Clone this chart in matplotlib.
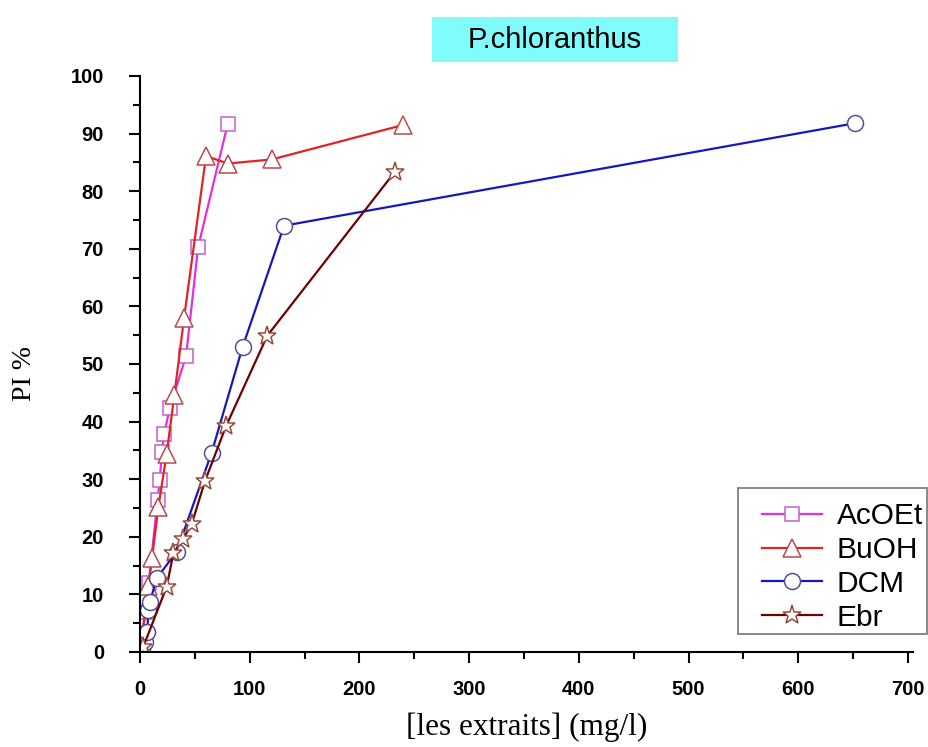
import matplotlib
matplotlib.use("Agg")
import matplotlib.pyplot as plt
from matplotlib.patches import Rectangle
from matplotlib.ticker import MultipleLocator

# ---- data ----
acoet_x = [2, 5, 8, 16, 18, 20, 22, 27, 42, 53, 80]
acoet_y = [3, 7, 12, 26.4, 29.9, 34.8, 37.8, 42.3, 51.4, 70.3, 91.7]

buoh_x = [2, 7.6, 11, 16.7, 24.3, 31.3, 40.1, 60.2, 80, 120, 240]
buoh_y = [3, 11.4, 16.3, 25.1, 34.4, 44.6, 57.9, 86.1, 84.8, 85.5, 91.5]

dcm_x = [2, 4.6, 6.7, 7.6, 9.1, 15.2, 33.4, 65.3, 93.6, 131.3, 651.8]
dcm_y = [0.5, 1.8, 3.5, 7.3, 8.7, 12.8, 17.4, 34.6, 53.0, 74.0, 91.8]

ebr_x = [3, 24.3, 30.4, 39.5, 47.1, 59.3, 78.4, 116, 232.5]
ebr_y = [0.9, 11.3, 17.1, 19.7, 22.2, 29.7, 39.2, 54.9, 83.4]

labels = ["AcOEt", "BuOH", "DCM", "Ebr"]
x_ticks = [0, 100, 200, 300, 400, 500, 600, 700]
y_ticks = [0, 10, 20, 30, 40, 50, 60, 70, 80, 90, 100]

# ---- figure ----
fig = plt.figure(figsize=(9.29, 7.47), dpi=100)
ax = fig.add_axes([0.1507, 0.1272, 0.8325, 0.7711])

styles = [
    (acoet_x, acoet_y, "#E030E0", "#C060C8", "s", 10),
    (buoh_x, buoh_y, "#E02424", "#B84A4A", "^", 13.5),
    (dcm_x, dcm_y, "#1818B8", "#4F4F9E", "o", 11.5),
    (ebr_x, ebr_y, "#6E0000", "#9A4A3A", "*", 14),
]
for (xs, ys, lc, mc, mk, ms), lab in zip(styles, labels):
    ax.plot(xs, ys, color=lc, lw=1.6, marker=mk, markersize=ms,
            markerfacecolor="white", markeredgecolor=mc, markeredgewidth=1.1,
            label=lab)

ax.set_xlim(0, 705)
ax.set_ylim(0, 100)
ax.set_xticks(x_ticks)
ax.set_yticks(y_ticks)
ax.xaxis.set_minor_locator(MultipleLocator(50))
ax.yaxis.set_minor_locator(MultipleLocator(5))

for s in ["top", "right"]:
    ax.spines[s].set_visible(False)
for s in ["left", "bottom"]:
    ax.spines[s].set_linewidth(1.5)

ax.tick_params(which="major", direction="out", length=8, width=1.5,
               labelsize=14.5)
ax.tick_params(which="minor", direction="out", length=5, width=1.5)
ax.tick_params(axis="x", which="major", pad=12)
ax.tick_params(axis="y", which="major", pad=18)
for lbl in ax.get_xticklabels() + ax.get_yticklabels():
    lbl.set_fontweight("bold")
    lbl.set_fontfamily("Liberation Sans")

ax.set_xlabel("[les extraits] (mg/l)", fontfamily="Liberation Serif",
              fontsize=22.5, labelpad=10)
ax.set_ylabel("PI %", fontfamily="Liberation Serif", fontsize=20)
ax.yaxis.set_label_coords(-0.133, 0.484)

# legend (frame drawn separately to match the reference box)
leg = fig.legend(loc="center left", bbox_to_anchor=(762 / 929, 1 - 567 / 747),
                 prop={"family": "Liberation Sans", "size": 21.5},
                 handlelength=2.0, handletextpad=0.5, labelspacing=0.19,
                 borderpad=0, borderaxespad=0, frameon=False)
fig.patches.append(Rectangle((738 / 929, 1 - 634 / 747), 189 / 929, 146 / 747,
                             transform=fig.transFigure, facecolor="white",
                             edgecolor="#808080", linewidth=1.3, zorder=2.5))

# title box
fig.patches.append(Rectangle((432 / 929, 1 - 62 / 747), 246 / 929, 45 / 747,
                             transform=fig.transFigure, facecolor="#80FCFC",
                             edgecolor="none", zorder=0))
fig.text(555 / 929, 1 - 40 / 747, "P.chloranthus", ha="center", va="center",
         fontfamily="Liberation Sans", fontsize=21)

fig.savefig("out.png", dpi=100)
